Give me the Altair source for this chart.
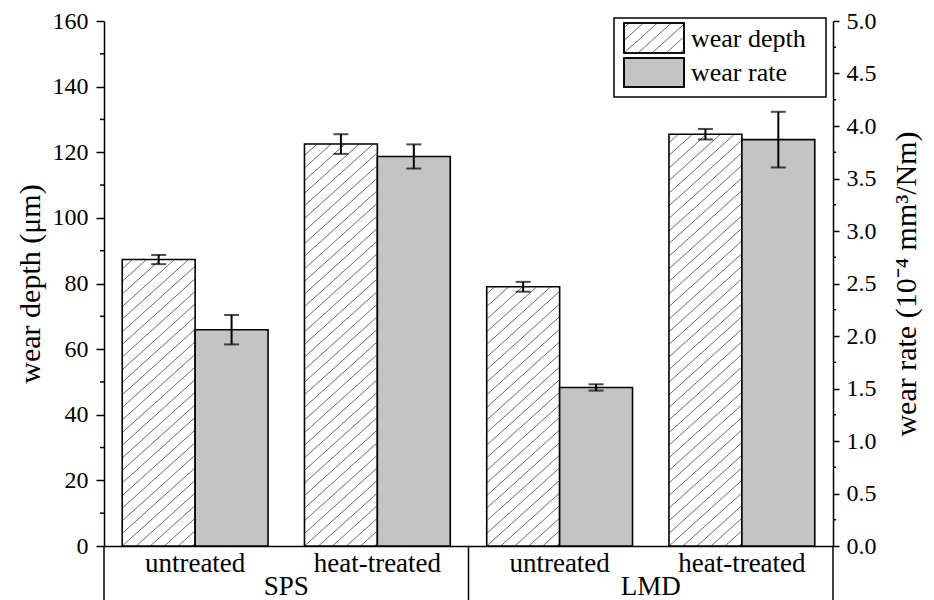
import altair as alt
import pandas as pd
import numpy as np

# ---------------- data ----------------
groups = ["SPS", "SPS", "LMD", "LMD"]
treatments = ["untreated", "heat-treated", "untreated", "heat-treated"]
wear_depth = [87.3, 122.5, 79.0, 125.5]
wear_depth_err = [1.4, 3.0, 1.5, 1.6]
wear_rate = [2.06, 3.71, 1.51, 3.87]
wear_rate_err = [0.14, 0.115, 0.03, 0.265]

depth_major = [0, 20, 40, 60, 80, 100, 120, 140, 160]
depth_minor = [10, 30, 50, 70, 90, 110, 130, 150]
rate_major = [0.0, 0.5, 1.0, 1.5, 2.0, 2.5, 3.0, 3.5, 4.0, 4.5, 5.0]
rate_minor = [0.25, 0.75, 1.25, 1.75, 2.25, 2.75, 3.25, 3.75, 4.25, 4.75]

legend_labels = ["wear depth", "wear rate"]

# ---------------- layout ----------------
W, H = 729, 525
XMAX = 4
DMAX = 160
RMAX = 5.0
FONT = "Liberation Serif"
GRAY = "#c4c4c4"

slots = np.arange(len(groups))
df = pd.DataFrame({
    "group": groups,
    "treat": treatments,
    "slot": slots,
    "depth": wear_depth,
    "derr": wear_depth_err,
    "rate": wear_rate,
    "rerr": wear_rate_err,
})
df["d_x0"] = df.slot + 0.1
df["d_x1"] = df.slot + 0.5
df["d_xc"] = df.slot + 0.3
df["r_x0"] = df.slot + 0.5
df["r_x1"] = df.slot + 0.9
df["r_xc"] = df.slot + 0.7
df["d_lo"] = df.depth - df.derr
df["d_hi"] = df.depth + df.derr
df["r_lo"] = df.rate - df.rerr
df["r_hi"] = df.rate + df.rerr
df["zero"] = 0.0
df["tx"] = df.slot + 0.5

xscale = alt.Scale(domain=[0, XMAX], nice=False, zero=False)
dscale = alt.Scale(domain=[0, DMAX], nice=False)
rscale = alt.Scale(domain=[0, RMAX], nice=False)

x_axis = alt.Axis(labels=False, ticks=False, title=None, domain=True)
d_axis = alt.Axis(
    values=depth_major,
    tickSize=8,
    title="wear depth (μm)",
    titlePadding=7,
    labelPadding=8,
    labelFont=FONT, labelFontSize=24,
    titleFont=FONT, titleFontSize=30,
)
r_axis = alt.Axis(
    orient="right",
    values=rate_major,
    format=".1f",
    tickSize=6,
    title="wear rate (10⁻⁴ mm³/Nm)",
    titleAngle=270,
    titleBaseline="top",
    titlePadding=15,
    labelPadding=7,
    labelFont=FONT, labelFontSize=24,
    titleFont=FONT, titleFontSize=30,
)


def X(field):
    return alt.X(field, scale=xscale, axis=x_axis)


def YD(field):
    return alt.Y(field, scale=dscale, axis=d_axis)


def YR(field):
    return alt.Y(field, scale=rscale, axis=r_axis)


SPACING = 14.0
SLOPE = 0.9


def hatch_segments(w, h):
    """segments of diagonal hatch in a w x h pixel box (origin bottom-left, y up)."""
    segs = []
    k = int(np.floor(-h / SLOPE / SPACING))
    while k * SPACING < w:
        c = k * SPACING
        xa = max(c, 0.0)
        xb = min(c + h / SLOPE, w)
        if xb > xa:
            segs.append((xa, SLOPE * (xa - c), xb, SLOPE * (xb - c)))
        k += 1
    return segs


px_x = W / XMAX
px_y = H / DMAX
hrows = []
for _, r in df.iterrows():
    w = (r.d_x1 - r.d_x0) * px_x
    h = r.depth * px_y
    for xa, ya, xb, yb in hatch_segments(w, h):
        hrows.append({
            "hx0": r.d_x0 + xa / px_x, "hx1": r.d_x0 + xb / px_x,
            "hy0": ya / px_y, "hy1": yb / px_y,
        })
hatch_df = pd.DataFrame(hrows)

# ---------------- depth layer ----------------
bars_d = alt.Chart(df).mark_rect(fill="white", stroke=None).encode(
    x=X("d_x0:Q"), x2="d_x1:Q", y=YD("zero:Q"), y2="depth:Q",
)
hatch = alt.Chart(hatch_df).mark_rule(color="#444444", strokeWidth=0.8).encode(
    x=X("hx0:Q"), x2="hx1:Q", y=YD("hy0:Q"), y2="hy1:Q",
)
outline_d = alt.Chart(df).mark_rect(fill=None, stroke="black", strokeWidth=1.6).encode(
    x=X("d_x0:Q"), x2="d_x1:Q", y=YD("zero:Q"), y2="depth:Q",
)
err_d = alt.Chart(df).mark_rule(color="black", strokeWidth=2).encode(
    x=X("d_xc:Q"), y=YD("d_lo:Q"), y2="d_hi:Q",
)
cap_d_hi = alt.Chart(df).mark_tick(orient="horizontal", size=15, thickness=2, color="black").encode(
    x=X("d_xc:Q"), y=YD("d_hi:Q"),
)
cap_d_lo = alt.Chart(df).mark_tick(orient="horizontal", size=15, thickness=2, color="black").encode(
    x=X("d_xc:Q"), y=YD("d_lo:Q"),
)
minor_d = alt.Chart(pd.DataFrame({"v": depth_minor})).mark_rule(color="black", strokeWidth=1.5).encode(
    x=alt.value(-4), x2=alt.value(0), y=YD("v:Q"),
)
depth_layer = alt.layer(bars_d, hatch, outline_d, err_d, cap_d_hi, cap_d_lo, minor_d)

# ---------------- rate layer ----------------
bars_r = alt.Chart(df).mark_rect(fill=GRAY, stroke="black", strokeWidth=1.6).encode(
    x=X("r_x0:Q"), x2="r_x1:Q", y=YR("zero:Q"), y2="rate:Q",
)
err_r = alt.Chart(df).mark_rule(color="black", strokeWidth=2).encode(
    x=X("r_xc:Q"), y=YR("r_lo:Q"), y2="r_hi:Q",
)
cap_r_hi = alt.Chart(df).mark_tick(orient="horizontal", size=15, thickness=2, color="black").encode(
    x=X("r_xc:Q"), y=YR("r_hi:Q"),
)
cap_r_lo = alt.Chart(df).mark_tick(orient="horizontal", size=15, thickness=2, color="black").encode(
    x=X("r_xc:Q"), y=YR("r_lo:Q"),
)
minor_r = alt.Chart(pd.DataFrame({"v": rate_minor})).mark_rule(color="black", strokeWidth=1.5).encode(
    x=alt.value(W), x2=alt.value(W + 3), y=YR("v:Q"),
)
rate_layer = alt.layer(bars_r, err_r, cap_r_hi, cap_r_lo, minor_r)

# ---------------- category labels & separators ----------------
treat_text = alt.Chart(df).mark_text(font=FONT, fontSize=27, color="black", baseline="alphabetic").encode(
    x=X("tx:Q"), y=alt.value(H + 26), text="treat:N",
)
grp_df = pd.DataFrame({"group": ["SPS", "LMD"], "gx": [1.0, 3.0]})
grp_text = alt.Chart(grp_df).mark_text(font=FONT, fontSize=27, color="black", baseline="alphabetic").encode(
    x=X("gx:Q"), y=alt.value(H + 49), text="group:N",
)
sep_df = pd.DataFrame({"sx": [0.0, 2.0, 4.0]})
seps = alt.Chart(sep_df).mark_rule(color="black", strokeWidth=1.5).encode(
    x=X("sx:Q"), y=alt.value(H), y2=alt.value(H + 56),
)

# ---------------- legend (drawn) ----------------
LX0, LY0, LX1, LY1 = 510, -3, 722, 76
box = alt.Chart(pd.DataFrame({"k": [0]})).mark_rect(fill="white", stroke="black", strokeWidth=1.5).encode(
    x=alt.value(LX0), x2=alt.value(LX1), y=alt.value(LY0), y2=alt.value(LY1),
)
SW_X0, SW_X1 = 520, 580
sw_df = pd.DataFrame({
    "label": legend_labels,
    "y0": [2, 37], "y1": [32, 66],
    "fill": ["white", GRAY],
    "ty": [26, 60],
})
swatches = alt.Chart(sw_df).mark_rect(stroke="black", strokeWidth=1.6).encode(
    x=alt.value(SW_X0), x2=alt.value(SW_X1),
    y=alt.Y("y0:Q", scale=None), y2="y1:Q",
    fill=alt.Fill("fill:N", scale=None, legend=None),
)
lh = []
sw_w, sw_h = SW_X1 - SW_X0, 32 - 2
for xa, ya, xb, yb in hatch_segments(sw_w, sw_h):
    lh.append({"lx0": SW_X0 + xa, "lx1": SW_X0 + xb, "ly0": 32 - ya, "ly1": 32 - yb})
leg_hatch = alt.Chart(pd.DataFrame(lh)).mark_rule(color="#444444", strokeWidth=0.8).encode(
    x=alt.X("lx0:Q", scale=None), x2="lx1:Q",
    y=alt.Y("ly0:Q", scale=None), y2="ly1:Q",
)
sw_outline = alt.Chart(sw_df).mark_rect(fill=None, stroke="black", strokeWidth=1.6).encode(
    x=alt.value(SW_X0), x2=alt.value(SW_X1),
    y=alt.Y("y0:Q", scale=None), y2="y1:Q",
)
leg_text = alt.Chart(sw_df).mark_text(font=FONT, fontSize=26, color="black", align="left", baseline="alphabetic").encode(
    x=alt.value(SW_X1 + 7),
    y=alt.Y("ty:Q", scale=None),
    text="label:N",
)

chart = alt.layer(
    depth_layer, rate_layer, treat_text, grp_text, seps,
    box, swatches, leg_hatch, sw_outline, leg_text,
).resolve_scale(y="independent").properties(
    width=W, height=H,
    autosize=alt.AutoSizeParams(type="none"),
    padding={"left": 96, "top": 13, "right": 93, "bottom": 54},
).configure_view(stroke=None).configure_axis(
    domainColor="black", domainWidth=1.5, tickColor="black", tickWidth=1.5,
    labelFont=FONT, labelFontSize=24, labelColor="black",
    titleFont=FONT, titleFontSize=30, titleFontWeight="normal", titleColor="black",
    grid=False,
)

chart.save("out.html", embed_options={"renderer": "svg", "actions": False})
